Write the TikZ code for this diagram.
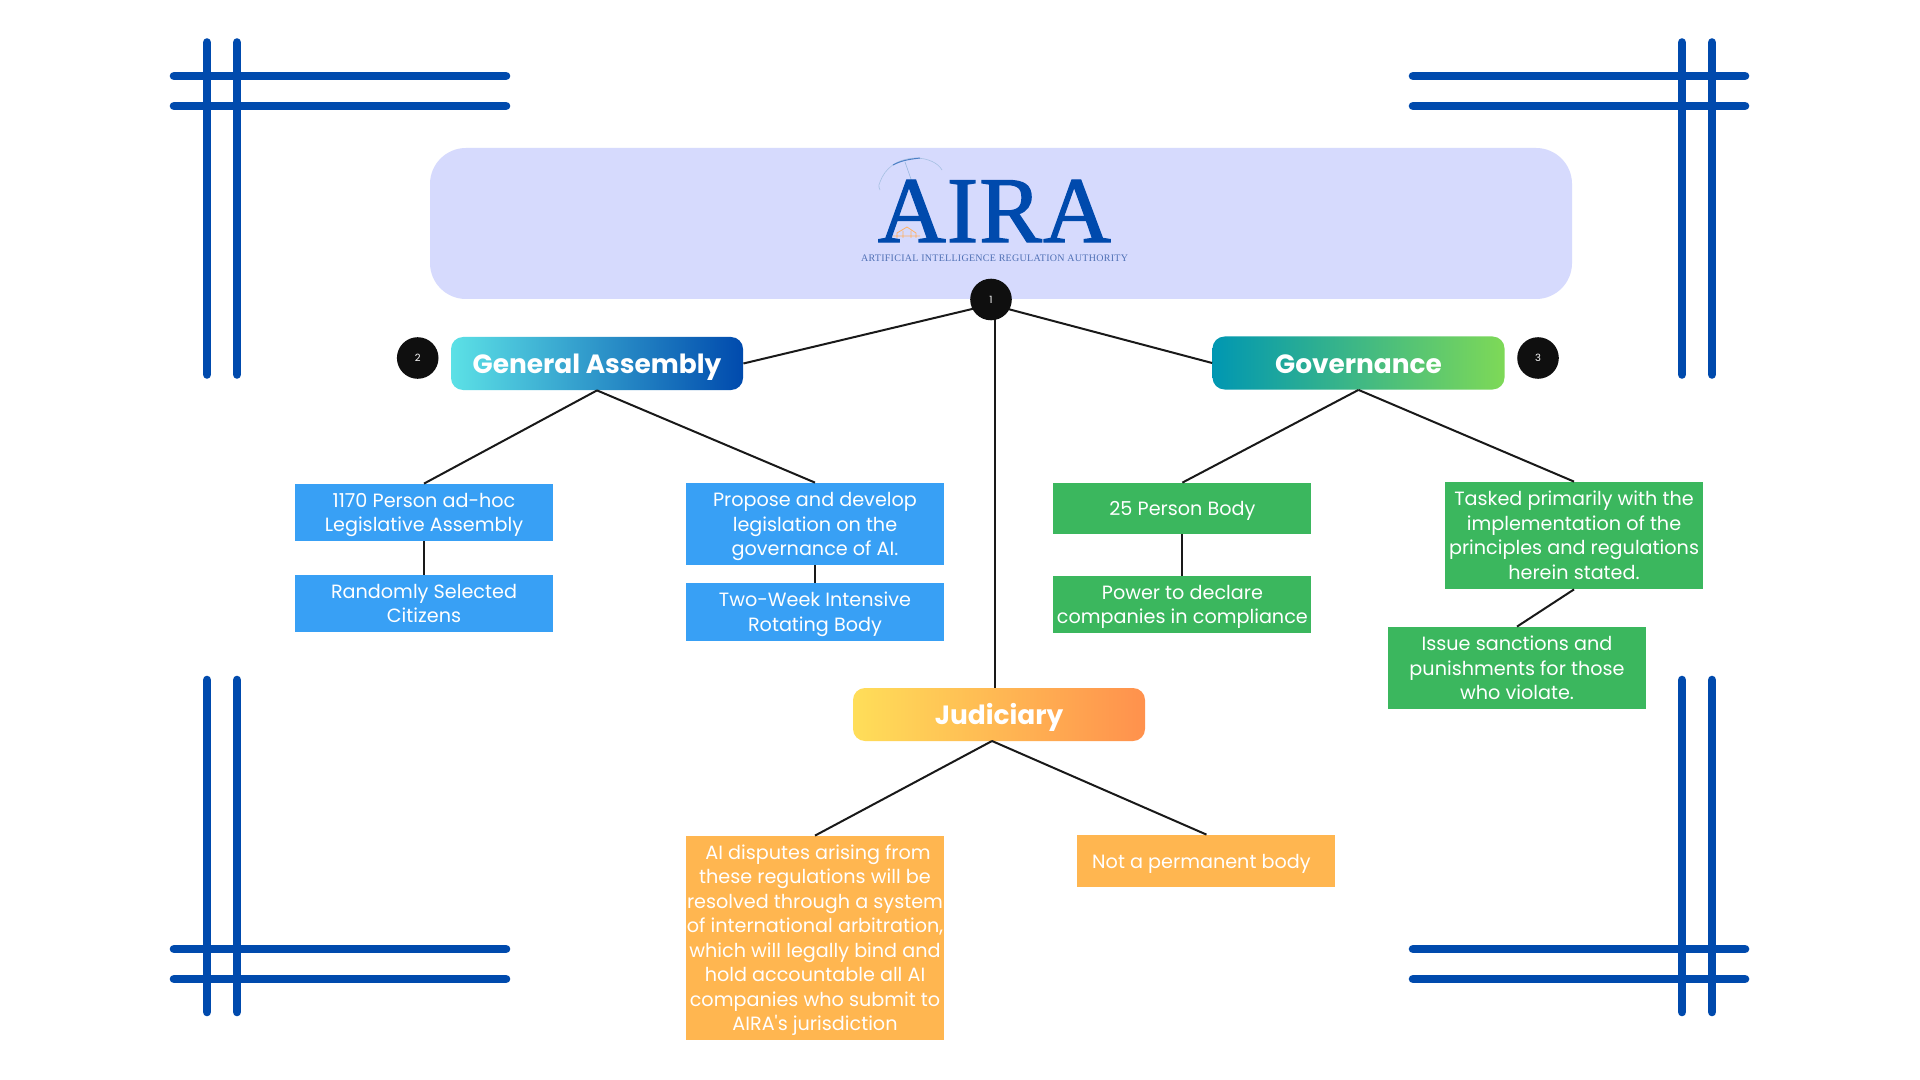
\documentclass[tikz,border=0pt]{standalone}
\usepackage{fontspec}
\setmainfont{Poppins}[Ligatures=TeXOff]
\newfontfamily\serifa[FakeBold=1.4,LetterSpace=1.2]{Liberation Serif}
\newfontfamily\serifb[LetterSpace=2.8]{Liberation Serif}
\definecolor{navy}{HTML}{004AAD}
\definecolor{bannerc}{HTML}{D6DAFD}
\definecolor{bluebox}{HTML}{38A0F5}
\definecolor{greenbox}{HTML}{3BB75E}
\definecolor{orangebox}{HTML}{FFB650}
\definecolor{dark}{HTML}{0F0F0F}
\definecolor{subc}{HTML}{4F70B5}
\definecolor{gaL}{HTML}{5CE1E6}
\definecolor{govL}{HTML}{0097B2}
\definecolor{govR}{HTML}{7ED957}
\definecolor{judL}{HTML}{FFDE59}
\definecolor{judR}{HTML}{FF914D}
\tikzset{
  x=0.5pt,y=-0.5pt,
  bar/.style={draw=navy,line width=4.3pt,line cap=round},
  link/.style={draw=black!90,line width=1pt},
  badge/.style={circle,fill=dark,draw=none,minimum size=20.8pt,inner sep=0pt,text=white,font=\fontsize{5}{6}\selectfont},
  head/.style={rounded corners=6pt,draw=none,minimum width=146pt,minimum height=26.5pt,inner sep=0pt,text=white,text height=12.2pt,text depth=2pt,font=\fontsize{13.2}{16}\selectfont\bfseries},
  leaf/.style={draw=none,minimum width=129pt,inner sep=0pt,text=white,align=center,font=\fontsize{9.6}{12.25}\selectfont},
}
\newcommand{\leafnode}[7]{% name, colour, x1,y1,x2,y2, text
  \node[leaf,fill=#2,minimum height={(#6-#4)*0.5pt}] (#1) at ({(#3+#5)/2},{(#4+#6)/2}) {\rule{0pt}{10pt}#7\rule[-3pt]{0pt}{3pt}};}
\begin{document}
\begin{tikzpicture}
\useasboundingbox (0,0) rectangle (1920,1080);
\fill[white] (0,0) rectangle (1920,1080);
% corner bars
\draw[bar] (207,42.5)--(207,374.5); \draw[bar] (237,42.5)--(237,374.5);
\draw[bar] (174,76)--(506,76); \draw[bar] (174,106)--(506,106);
\draw[bar] (1682,42.5)--(1682,374.5); \draw[bar] (1712,42.5)--(1712,374.5);
\draw[bar] (1413,76)--(1745,76); \draw[bar] (1413,106)--(1745,106);
\draw[bar] (207,680)--(207,1012); \draw[bar] (237,680)--(237,1012);
\draw[bar] (174,949)--(506,949); \draw[bar] (174,979)--(506,979);
\draw[bar] (1682,680)--(1682,1012); \draw[bar] (1712,680)--(1712,1012);
\draw[bar] (1413,949)--(1745,949); \draw[bar] (1413,979)--(1745,979);
% banner
\node[fill=bannerc,rounded corners=18pt,minimum width=571pt,minimum height=75.5pt,inner sep=0pt] (banner) at (1001,223.5) {};
% logo
\draw[navy!35,line width=.3pt] (880,182) .. controls (885,168) and (897,159) .. (915,158) .. controls (928,158) and (938,163) .. (942,170) (880,190) .. controls (878,186) and (879,184) .. (880,182);
\draw[navy!70,line width=.5pt] (893,165) .. controls (902,160) and (912,159) .. (920,158);
\draw[navy!40,line width=.3pt] (905,162)--(912,182);
\node[text=navy,font=\serifa\fontsize{47}{47}\selectfont,inner sep=0pt] (logo) at (994.5,211) {AIRA};
\node[text=subc,font=\serifb\fontsize{5}{6}\selectfont,inner sep=0pt] (sub) at (994.5,258) {ARTIFICIAL INTELLIGENCE REGULATION AUTHORITY};
\draw[orange!60,line width=.4pt] (897,238) -- (897,233) -- (907,227) -- (916,233) -- (916,238) (903,238)--(903,231) (911,238)--(911,231) (893,236)--(920,236);
% headers
\node[head,left color=gaL,right color=navy] (ga) at (597,363.5) {General Assembly};
\node[head,left color=govL,right color=govR] (gov) at (1358.5,363) {Governance};
\node[head,left color=judL,right color=judR] (jud) at (999,714.5) {Judiciary};
% badges
\node[badge] (b2) at (417.7,358) {2};
\node[badge] (b3) at (1538,358) {3};
% leaves
\leafnode{g1}{bluebox}{295}{484}{553}{541}{1170 Person ad-hoc\\Legislative Assembly}
\leafnode{g2}{bluebox}{295}{575}{553}{632}{Randomly Selected\\Citizens}
\leafnode{g3}{bluebox}{686}{483}{944}{565}{Propose and develop\\legislation on the\\governance of AI.}
\leafnode{g4}{bluebox}{686}{583}{944}{641}{Two-Week Intensive\\Rotating Body}
\leafnode{v1}{greenbox}{1053.4}{483}{1311.4}{534}{25 Person Body}
\leafnode{v2}{greenbox}{1053.4}{576}{1311.4}{633}{Power to declare\\companies in compliance}
\leafnode{v3}{greenbox}{1445}{482}{1703}{589}{Tasked primarily with the\\implementation of the\\principles and regulations\\herein stated.}
\leafnode{v4}{greenbox}{1388}{627}{1646}{709}{Issue sanctions and\\punishments for those\\who violate.}
\leafnode{j1}{orangebox}{686}{836}{944}{1040}{\hspace*{3pt}AI disputes arising from\\these regulations will be\\resolved through a system\\of international arbitration,\\which will legally bind and\\hold accountable all AI\\companies who submit to\\AIRA's jurisdiction}
\leafnode{j2}{orangebox}{1077.4}{835}{1335.5}{887}{Not a permanent body\hspace*{5pt}}
% connector anchors
\coordinate (hub) at (991,304.5);
\coordinate (jtop) at (995,688);
\coordinate (japex) at (992,741);
% connectors
\draw[link] (hub) -- (ga.east);
\draw[link] (hub) -- (gov.west);
\draw[link] (hub -| jtop) -- (jtop);
\draw[link] (ga.south) -- (g1.north);
\draw[link] (ga.south) -- (g3.north);
\draw[link] (g1.south) -- (g2.north);
\draw[link] (g3.south) -- (g4.north);
\draw[link] (gov.south) -- (v1.north);
\draw[link] (gov.south) -- (v3.north);
\draw[link] (v1.south) -- (v2.north);
\draw[link] (v3.south) -- (v4.north);
\draw[link] (japex) -- (j1.north);
\draw[link] (japex) -- (j2.north);
\node[badge] (b1) at (991,299.5) {1};
\end{tikzpicture}
\end{document}
